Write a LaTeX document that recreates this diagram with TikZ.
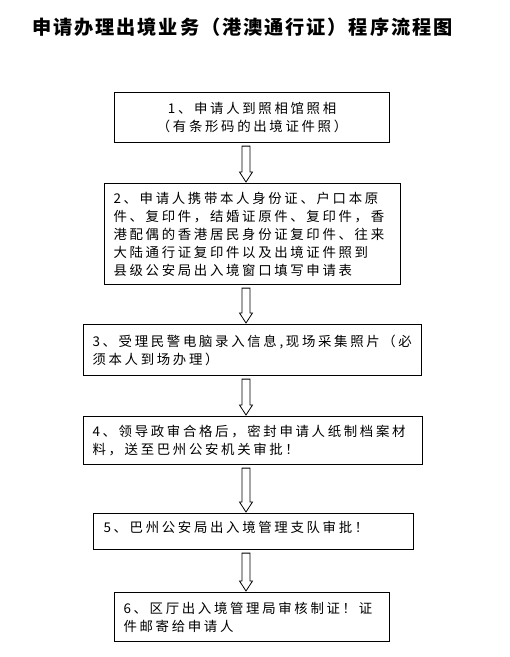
\documentclass[tikz,border=0pt]{standalone}
\usepackage{fontspec}
\setmainfont{Noto Sans CJK SC}
\newfontfamily\bodyfont[LetterSpace=20]{Noto Sans CJK SC}
\newfontfamily\titlefont[LetterSpace=10]{Noto Sans CJK SC}
\usetikzlibrary{calc}
\newcommand\blockarrow[2]{%
  \path (#1.south -| ax) ++(0,3) coordinate (as);
  \path (#2.north -| ax) ++(0,-1) coordinate (ae);
  \draw[blk] ($(as)+(-4,0)$) -- ($(as)+(4,0)$) -- ($(ae)+(4,-10)$) -- ($(ae)+(6.5,-10)$) -- (ae)
    -- ($(ae)+(-6.5,-10)$) -- ($(ae)+(-4,-10)$) -- cycle;}
\begin{document}
\begin{tikzpicture}[x=1pt,y=-1pt,
  stepbox/.style={draw,line width=1.1pt,rectangle,anchor=north west,inner xsep=9pt,inner ysep=0pt,
    align=left,font=\bodyfont\fontsize{13.4}{18}\selectfont},
  blk/.style={draw,line width=0.8pt,fill=white}]
\useasboundingbox[fill=white] (0,0) rectangle (510,657);
\coordinate (ax) at (246,0);
\node[anchor=west,inner sep=0pt,font=\titlefont\bfseries\fontsize{19.2}{22}\selectfont] (title) at (32,27)
  {申请办理出境业务（港澳通行证）程序流程图};
\node[stepbox,align=center,minimum width=275pt,minimum height=50pt,text width=257pt] (b1) at (114,92)
  {1、申请人到照相馆照相\\（有条形码的出境证件照）};
\node[stepbox,minimum width=296pt,minimum height=101pt,text width=278pt] (b2) at (104,183)
  {2、申请人携带本人身份证、户口本原\\件、复印件，结婚证原件、复印件，香\\港配偶的香港居民身份证复印件、往来\\大陆通行证复印件以及出境证件照到\\县级公安局出入境窗口填写申请表};
\node[stepbox,minimum width=338pt,minimum height=51pt,text width=320pt] (b3) at (83,324)
  {3、受理民警电脑录入信息,现场采集照片（必\\须本人到场办理）};
\node[stepbox,minimum width=339pt,minimum height=48pt,text width=321pt] (b4) at (83,416)
  {4、领导政审合格后，密封申请人纸制档案材\\料，送至巴州公安机关审批！};
\node[stepbox,minimum width=318pt,minimum height=36pt,text width=300pt,inner xsep=10pt,text depth=10pt] (b5) at (93,513)
  {5、巴州公安局出入境管理支队审批！};
\node[stepbox,minimum width=275pt,minimum height=49pt,text width=257pt] (b6) at (114,592)
  {6、区厅出入境管理局审核制证！证\\件邮寄给申请人};
\blockarrow{b1}{b2}
\blockarrow{b2}{b3}
\blockarrow{b3}{b4}
\blockarrow{b4}{b5}
\blockarrow{b5}{b6}
\end{tikzpicture}
\end{document}
